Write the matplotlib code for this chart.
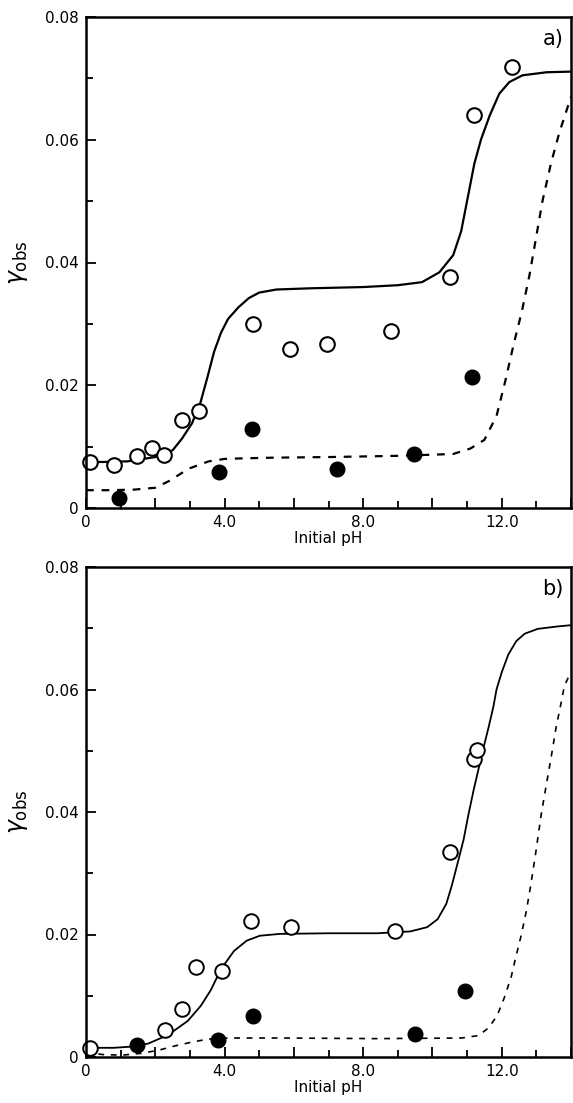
import numpy as np
import matplotlib
matplotlib.use("Agg")
import matplotlib.pyplot as plt
from matplotlib.ticker import FixedLocator, MultipleLocator

# Panel a) measured points
open_a_x = [0.12, 0.8, 1.47, 1.9, 2.25, 2.78, 3.27, 4.82, 5.88, 6.96, 8.8, 10.52, 11.2, 12.29]
open_a_y = [0.0075, 0.0070, 0.0084, 0.0098, 0.0087, 0.0143, 0.0158, 0.0300, 0.0259, 0.0267,
            0.0288, 0.0376, 0.0641, 0.0719]
filled_a_x = [0.95, 3.85, 4.79, 7.25, 9.48, 11.13]
filled_a_y = [0.0016, 0.0058, 0.0128, 0.0063, 0.0088, 0.0213]

# Panel a) curves
solid_a_x = [0, 0.5, 1.2, 2.0, 2.5, 2.77, 3.06, 3.3, 3.5, 3.7, 3.9, 4.1, 4.4, 4.7, 5.0, 5.5,
             6.5, 8.0, 9.0, 9.7, 10.2, 10.6, 10.83, 11.02, 11.21, 11.4, 11.65, 11.93, 12.22,
             12.6, 13.3, 14.0]
solid_a_y = [0.0075, 0.0075, 0.0076, 0.0083, 0.0094, 0.0113, 0.0138, 0.0171, 0.0212, 0.0255,
             0.0286, 0.0308, 0.0327, 0.0342, 0.0351, 0.0356, 0.0358, 0.0360, 0.0363, 0.0368,
             0.0384, 0.0412, 0.0451, 0.0506, 0.0561, 0.0600, 0.0639, 0.0675, 0.0694, 0.0705,
             0.0710, 0.0711]
dashed_a_x = [0, 0.7, 1.4, 2.0, 2.4, 2.96, 3.54, 4.0, 4.6, 5.4, 7.0, 9.0, 10.6, 11.1, 11.5,
              11.85, 12.1, 12.35, 12.58, 12.8, 12.99, 13.18, 13.42, 13.66, 14.0]
dashed_a_y = [0.0029, 0.0029, 0.0030, 0.0033, 0.0044, 0.0064, 0.0076, 0.0080, 0.0081, 0.0082,
              0.0083, 0.0085, 0.0088, 0.0097, 0.0111, 0.0150, 0.0206, 0.0268, 0.0320, 0.0379,
              0.0440, 0.0501, 0.0561, 0.0611, 0.0670]

# Panel b) measured points
open_b_x = [0.12, 2.27, 2.76, 3.17, 3.93, 4.77, 5.92, 8.93, 10.5, 11.2, 11.3]
open_b_y = [0.0014, 0.0044, 0.0079, 0.0147, 0.0140, 0.0222, 0.0213, 0.0206, 0.0335, 0.0487, 0.0501]
filled_b_x = [1.46, 3.82, 4.81, 9.5, 10.95]
filled_b_y = [0.0020, 0.0028, 0.0067, 0.0038, 0.0108]

# Panel b) curves
solid_b_x = [0, 0.8, 1.33, 1.8, 2.37, 2.94, 3.32, 3.6, 3.79, 3.98, 4.27, 4.64, 5.02, 5.6, 7.0,
             8.4, 9.36, 9.85, 10.15, 10.4, 10.56, 10.72, 10.9, 11.04, 11.19, 11.33, 11.47,
             11.62, 11.76, 11.85, 12.0, 12.19, 12.42, 12.66, 13.04, 13.62, 14.0]
solid_b_y = [0.0015, 0.0015, 0.0017, 0.0022, 0.0036, 0.0059, 0.0084, 0.0109, 0.0131, 0.0150,
             0.0173, 0.0190, 0.0198, 0.0201, 0.0202, 0.0202, 0.0205, 0.0212, 0.0225, 0.0250,
             0.0280, 0.0315, 0.0355, 0.0396, 0.0436, 0.0470, 0.0504, 0.0538, 0.0572, 0.0600,
             0.0628, 0.0657, 0.0679, 0.0691, 0.0699, 0.0703, 0.0705]
dashed_b_x = [0, 0.47, 1.04, 1.6, 2.09, 2.56, 3.03, 3.5, 4.08, 5.6, 8.4, 10.84, 11.33, 11.63,
              11.87, 12.07, 12.27, 12.41, 12.56, 12.71, 12.83, 12.96, 13.14, 13.28, 13.42,
              13.57, 13.71, 13.81, 13.95, 14.0]
dashed_b_y = [0.0008, 0.0004, 0.0003, 0.0006, 0.0011, 0.0018, 0.0024, 0.0029, 0.0031, 0.0031,
              0.0030, 0.0031, 0.0035, 0.0048, 0.0068, 0.0096, 0.0130, 0.0164, 0.0198, 0.0238,
              0.0278, 0.0325, 0.0396, 0.0442, 0.0487, 0.0538, 0.0577, 0.0606, 0.0623, 0.0627]

x_major = [0, 2, 4, 6, 8, 10, 12, 14]
x_labels = ["0", "", "4.0", "", "8.0", "", "12.0", ""]
y_major = [0, 0.02, 0.04, 0.06, 0.08]
y_labels = ["0", "0.02", "0.04", "0.06", "0.08"]

W, H = 573, 1103
fig = plt.figure(figsize=(W / 100, H / 100), dpi=100)


def px_axes(left, top, right, bottom):
    return fig.add_axes([left / W, 1 - bottom / H, (right - left) / W, (bottom - top) / H])


def style_axes(ax, tag, lw):
    ax.set_xlim(0, 14)
    ax.set_ylim(0, 0.08)
    ax.xaxis.set_major_locator(FixedLocator(x_major))
    ax.set_xticklabels(x_labels)
    ax.xaxis.set_minor_locator(MultipleLocator(1))
    ax.yaxis.set_major_locator(FixedLocator(y_major))
    ax.set_yticklabels(y_labels)
    ax.yaxis.set_minor_locator(MultipleLocator(0.01))
    ax.tick_params(which="both", direction="in", top=False, right=False, width=1.3,
                   labelsize=11, pad=5)
    ax.tick_params(which="major", length=7)
    ax.tick_params(which="minor", length=5)
    for s in ax.spines.values():
        s.set_linewidth(lw)
    ax.set_xlabel("Initial pH", fontsize=11, labelpad=1)
    ax.set_ylabel(r"$\gamma_{\rm obs}$", fontsize=17, labelpad=0)
    ax.yaxis.set_label_coords(-0.115, 0.5)
    ax.text(0.985, 0.975, tag, transform=ax.transAxes, ha="right", va="top", fontsize=15)


# a)
ax1 = px_axes(86, 17, 571, 508)
ax1.plot(solid_a_x, solid_a_y, color="black", lw=1.6)
ax1.plot(dashed_a_x, dashed_a_y, color="black", lw=1.6, dashes=(3.5, 3.5))
ax1.plot(open_a_x, open_a_y, "o", ms=10.5, mfc="white", mec="black", mew=1.5, clip_on=False)
ax1.plot(filled_a_x, filled_a_y, "o", ms=10.5, mfc="black", mec="black", clip_on=False)
style_axes(ax1, "a)", 1.8)

# b)
ax2 = px_axes(86, 567, 571, 1057)
ax2.plot(solid_b_x, solid_b_y, color="black", lw=1.3)
ax2.plot(dashed_b_x, dashed_b_y, color="black", lw=1.2, dashes=(3.5, 4))
ax2.plot(open_b_x, open_b_y, "o", ms=10.5, mfc="white", mec="black", mew=1.4, clip_on=False)
ax2.plot(filled_b_x, filled_b_y, "o", ms=10.5, mfc="black", mec="black", clip_on=False)
style_axes(ax2, "b)", 1.8)

fig.savefig("out.png", dpi=100)
